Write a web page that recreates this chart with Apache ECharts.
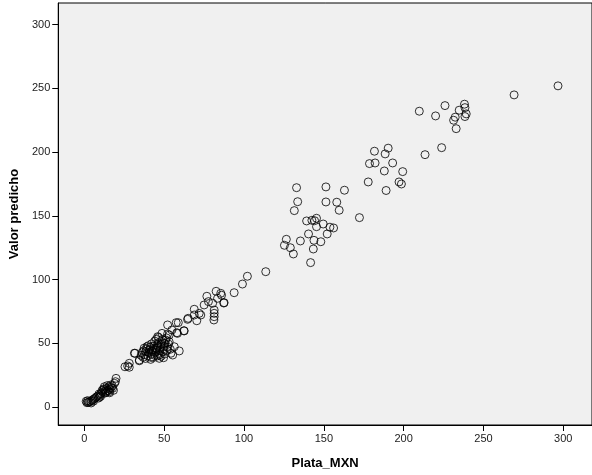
<!DOCTYPE html>
<html>
<head>
<meta charset="utf-8">
<script src="https://cdn.jsdelivr.net/npm/echarts@6/dist/echarts.min.js"></script>
<style>
  html, body { margin: 0; padding: 0; background: #fff; }
  #main { width: 592px; height: 475px; }
</style>
</head>
<body>
<div id="main"></div>
<script>
// valores (Plata_MXN vs Valor predicho)
var plataMXN = [
  296.7, 269.2, 209.8, 225.9, 220.0, 238.1, 238.4, 234.8, 239.2, 238.4, 232.3, 231.3, 232.9,
  223.8, 213.4, 190.3, 188.4, 193.1, 187.9, 199.4, 197.1, 198.6, 189.0, 181.7, 178.6, 182.1, 177.8,
  132.9, 151.3, 162.9, 133.6, 151.3, 158.1, 131.5, 159.6, 172.3, 139.2, 142.5, 145.4, 144.2,
  149.6, 145.4, 153.8, 156.1, 140.4, 152.1, 126.5, 135.3, 143.8, 148.1, 125.3, 129.0, 143.4,
  130.9, 141.7, 113.6, 102.1, 99.0, 93.8,
  87.3, 82.5, 76.7, 85.9, 68.8, 65.0, 72.9, 81.3, 81.3, 81.1, 77.7, 80.3, 75.0, 85.4, 83.4, 87.5,
  81.3, 68.8, 71.9, 64.6, 70.4, 57.5, 58.8, 52.1, 54.8, 62.3, 57.9, 48.6, 45.9, 52.1, 53.1, 58.3, 62.5,
  31.7, 34.4, 27.1, 28.1, 28.1, 59.4, 56.3, 55.3, 49.6, 41.7, 46.9, 54.2, 31.3, 34.4,
  35.5, 36.2, 37.0, 37.8, 38.5, 38.9, 39.6, 40.3, 40.8, 41.2, 41.9, 42.4, 42.9, 43.5, 43.9, 44.4,
  44.8, 45.3, 45.7, 46.2, 46.6, 47.1, 47.5, 47.9, 48.3, 48.8, 49.2, 49.6, 50.1, 50.5, 50.9, 51.4,
  51.8, 52.2, 52.7, 53.1, 36.8, 38.2, 39.1, 40.0, 42.1, 44.0, 45.0, 46.5, 47.3, 48.0, 43.2, 37.4,
  41.5, 45.8, 50.3, 53.8, 44.7, 46.0, 49.9,
  19.8, 18.8, 19.4, 25.4, 17.7, 16.8, 15.9, 15.2, 14.6, 13.9, 13.1, 12.5, 12.2, 11.6, 11.0, 10.4,
  9.8, 9.1, 8.4, 7.6, 6.9, 6.1, 5.3, 4.6, 3.8, 3.0, 2.3, 1.6, 1.1, 2.0, 16.3, 17.4, 14.3, 18.2,
  15.5, 12.8, 10.2, 8.8, 5.7, 4.2, 13.5, 14.9, 11.9, 15.8, 9.5
];
var valorPredicho = [
  252.0, 244.9, 232.1, 236.5, 228.4, 237.6, 234.9, 232.9, 230.0, 227.9, 227.4, 225.0, 218.4,
  203.5, 198.0, 203.1, 198.6, 191.5, 185.2, 184.7, 176.6, 175.0, 169.9, 200.7, 191.0, 191.5, 176.6,
  172.1, 172.7, 170.1, 161.1, 160.9, 160.7, 154.1, 154.4, 148.6, 146.0, 146.5, 148.1, 146.2,
  143.6, 141.5, 141.1, 140.5, 135.8, 135.8, 131.6, 130.3, 130.8, 129.7, 126.9, 125.0, 124.0,
  120.1, 113.3, 106.2, 102.6, 96.5, 89.7,
  81.6, 90.8, 86.9, 87.7, 76.7, 69.6, 72.2, 73.5, 70.9, 68.3, 82.7, 81.4, 80.1, 89.2, 85.3, 81.9,
  76.1, 72.2, 73.5, 68.8, 67.7, 66.2, 66.2, 64.4, 60.4, 59.9, 58.3, 57.8, 55.2, 57.3, 56.5, 57.8, 59.7,
  42.2, 36.3, 32.2, 31.2, 34.3, 44.0, 47.3, 40.8, 38.7, 39.0, 38.2, 42.2, 42.2, 36.9,
  40.5, 42.8, 44.1, 41.2, 43.5, 45.6, 40.2, 42.7, 44.9, 46.8, 41.5, 43.8, 45.3, 47.9, 40.6, 43.1,
  44.6, 46.2, 48.8, 50.3, 42.0, 44.4, 46.9, 49.1, 51.4, 53.0, 43.3, 45.8, 47.7, 50.1, 52.6, 54.2,
  44.6, 46.9, 49.4, 51.2, 39.0, 38.1, 47.3, 48.1, 49.6, 51.7, 53.1, 54.6, 41.0, 39.8, 38.9, 46.2,
  37.4, 40.1, 41.6, 45.3, 45.7, 47.5, 49.8,
  22.5, 18.6, 19.9, 31.6, 14.7, 15.3, 14.1, 15.8, 13.2, 14.6, 12.4, 15.9, 13.5, 11.8, 12.9, 10.7,
  9.6, 10.2, 8.6, 8.0, 7.1, 6.4, 5.8, 5.1, 4.4, 4.0, 3.6, 3.4, 4.5, 5.0, 17.2, 16.6, 16.8, 13.1,
  12.0, 10.9, 8.5, 7.0, 4.6, 3.2, 11.4, 12.8, 14.2, 11.2, 7.8
];
var tickValues = [0, 50, 100, 150, 200, 250, 300];

var puntos = [];
for (var i = 0; i < plataMXN.length; i++) {
  puntos.push([plataMXN[i], valorPredicho[i]]);
}

var myChart = echarts.init(document.getElementById('main'));

var option = {
  backgroundColor: '#ffffff',
  animation: false,
  textStyle: { fontFamily: 'Liberation Sans' },
  grid: {
    left: 57, top: 3, right: 0, bottom: 50,
    show: true,
    backgroundColor: '#f0f0f0',
    borderColor: '#000',
    borderWidth: 1
  },
  xAxis: {
    type: 'value',
    min: -16.4, max: 318,
    name: 'Plata_MXN',
    nameLocation: 'middle',
    nameGap: 32,
    nameTextStyle: { fontSize: 13, fontWeight: 'bold', color: '#000' },
    axisLine: { onZero: false, lineStyle: { color: '#000', width: 1 } },
    axisTick: { show: true, inside: false, length: 6, customValues: tickValues, lineStyle: { color: '#000' } },
    axisLabel: { customValues: tickValues, fontSize: 11, color: '#222', margin: 8 },
    splitLine: { show: false }
  },
  yAxis: {
    type: 'value',
    min: -14.1, max: 317,
    name: 'Valor predicho',
    nameLocation: 'middle',
    nameGap: 32,
    nameRotate: 90,
    nameTextStyle: { fontSize: 13, fontWeight: 'bold', color: '#000' },
    axisLine: { show: true, onZero: false, lineStyle: { color: '#000', width: 1 } },
    axisTick: { show: true, inside: false, length: 6, customValues: tickValues, lineStyle: { color: '#000' } },
    axisLabel: { customValues: tickValues, fontSize: 11, color: '#222', margin: 8 },
    splitLine: { show: false }
  },
  series: [
    {
      type: 'scatter',
      data: puntos,
      symbol: 'circle',
      symbolSize: 8,
      itemStyle: {
        color: 'rgba(0,0,0,0)',
        borderColor: '#000',
        borderWidth: 1
      }
    }
  ]
};
myChart.setOption(option);
</script>
</body>
</html>
